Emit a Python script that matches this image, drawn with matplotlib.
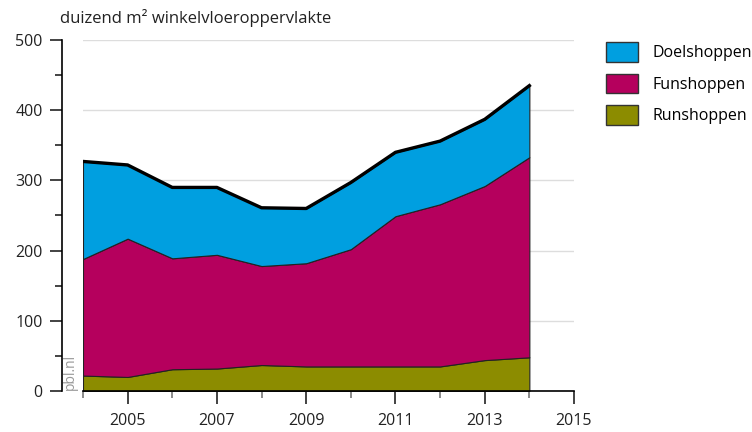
import matplotlib.pyplot as plt
from matplotlib.patches import Patch
from matplotlib.ticker import MultipleLocator

plt.rcParams['font.family'] = ['Open Sans', 'DejaVu Sans']

#data
years = [2004, 2005, 2006, 2007, 2008, 2009, 2010, 2011, 2012, 2013, 2014]
runshoppen = [22, 20, 31, 32, 37, 35, 35, 35, 35, 44, 48]
funshoppen = [166, 197, 158, 162, 141, 147, 167, 214, 231, 248, 285]
doelshoppen = [139, 105, 101, 96, 83, 78, 95, 91, 90, 95, 102]

blue = '#009FE0'
magenta = '#B5005D'
olive = '#8C8C00'

fig = plt.figure(figsize=(7.52, 4.32), dpi=100)
ax = fig.add_axes([83/752, 41/432, (574-83)/752, (391-40)/432])

ax.stackplot(years, runshoppen, funshoppen, doelshoppen,
             colors=[olive, magenta, blue], edgecolor='#222222', linewidth=0.8)
totals = [r + f + d for r, f, d in zip(runshoppen, funshoppen, doelshoppen)]
ax.plot(years, totals, color='black', lw=2.4, solid_joinstyle='round', zorder=5)

ax.set_xlim(2004, 2015)
ax.set_ylim(0, 500)

#gridlines
ax.set_axisbelow(True)
ax.yaxis.grid(True, color='#dddddd', lw=1)
ax.xaxis.grid(False)

for s in ['top', 'right']:
    ax.spines[s].set_visible(False)
ax.spines['left'].set_position(('outward', 15))
ax.spines['left'].set_linewidth(1.2)
ax.spines['bottom'].set_linewidth(1.2)

ax.set_xticks([2005, 2007, 2009, 2011, 2013, 2015])
ax.set_xticks([2004, 2006, 2008, 2010, 2012, 2014], minor=True)
ax.yaxis.set_major_locator(MultipleLocator(100))
ax.yaxis.set_minor_locator(MultipleLocator(50))
ax.tick_params(axis='x', which='major', length=9, width=1.2, pad=7, labelsize=11.5, colors='#222222')
ax.tick_params(axis='x', which='minor', length=5, width=1.2, color='#777777')
ax.tick_params(axis='y', which='major', length=9, width=1.2, pad=5, labelsize=11.5, colors='#222222')
ax.tick_params(axis='y', which='minor', length=5, width=1.2, color='#222222')

fig.text(60/752, 1 - 18/432, 'duizend m² winkelvloeroppervlakte', fontsize=12,
         color='#222222', va='center', ha='left')
ax.text(2003.72, 2, 'pbl.nl', rotation=90, color='#999999', fontsize=10,
        va='bottom', ha='center')

handles = [Patch(facecolor=blue, edgecolor='#333333', label='Doelshoppen'),
           Patch(facecolor=magenta, edgecolor='#333333', label='Funshoppen'),
           Patch(facecolor=olive, edgecolor='#333333', label='Runshoppen')]
fig.legend(handles=handles, loc='upper left', bbox_to_anchor=(600/752, 1 - 36/432),
           frameon=False, fontsize=11.5, handlelength=2.0, handleheight=1.5,
           labelspacing=0.75, handletextpad=0.9, borderaxespad=0)

fig.savefig('out.png', dpi=100)
